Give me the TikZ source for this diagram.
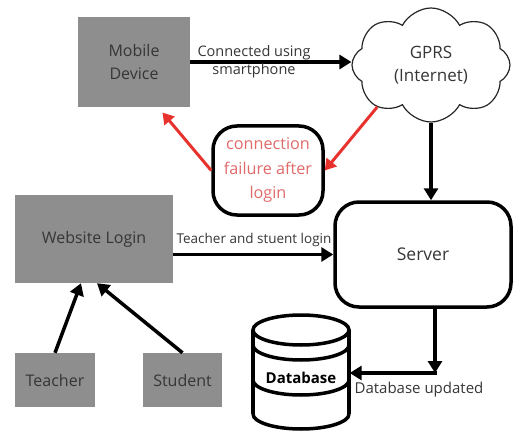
\documentclass[tikz,border=0pt]{standalone}
\usepackage{fontspec}
\setmainfont{Open Sans}
\usetikzlibrary{shapes.symbols,arrows.meta,calc}
\definecolor{boxgray}{HTML}{8E8E8E}
\definecolor{boxtext}{HTML}{363636}
\definecolor{arrred}{HTML}{E8322E}
\definecolor{txtred}{HTML}{E06A6A}
\begin{document}
\begin{tikzpicture}[x=1pt,y=1pt,
  graybox/.style={fill=boxgray,draw=none,text=boxtext,align=center,inner sep=0pt,font=\fontsize{16}{23}\selectfont},
  roundbox/.style={draw=black,line width=3.5pt,rounded corners=24pt,align=center,inner sep=0pt},
  blk/.style={line width=3.5pt,-{Triangle[width=14pt,length=12pt]}},
  redarr/.style={draw=arrred,line width=3pt,-{Triangle[width=13pt,length=11pt]}},
  lbl/.style={text=boxtext,align=center,inner sep=0pt}
]
\useasboundingbox (0,0) rectangle (514,432);
% nodes
\node[graybox,minimum width=112pt,minimum height=90pt] (mobile) at (134,370) {Mobile\\Device};
\node[cloud,draw=black!85,line width=1.2pt,cloud puffs=8,cloud puff arc=125,cloud ignores aspect,minimum width=158pt,minimum height=114pt,align=center,inner sep=0pt,text=boxtext,font=\fontsize{17}{23}\selectfont] (cloud) at (431,367) {GPRS\\(Internet)};
\node[roundbox,minimum width=110pt,minimum height=89pt,text=txtred,font=\fontsize{16.2}{24.5}\selectfont] (fail) at (268,261.5) {connection\\failure after\\login};
\node[graybox,minimum width=158pt,minimum height=88pt] (website) at (94,193) {Website Login};
\node[roundbox,minimum width=176pt,minimum height=105pt,text=boxtext,font=\fontsize{17.5}{20}\selectfont] (server) at (423,177.5) {Server};
\node[graybox,minimum width=80pt,minimum height=54pt] (teacher) at (55,52) {Teacher};
\node[graybox,minimum width=79pt,minimum height=54pt] (student) at (182.5,52) {Student};
% database cylinder
\node[minimum width=97pt,minimum height=114pt,inner sep=0pt] (db) at (301,60) {};
\begin{scope}[line width=3.5pt]
  \draw (301,102) ellipse (48 and 15);
  \draw (253,102) -- (253,18);
  \draw (349,102) -- (349,18);
  \draw (253,87) arc (180:360:48 and 15);
  \draw (253,52) arc (180:360:48 and 15);
  \draw (253,18) arc (180:360:48 and 15);
\end{scope}
\node[text=black,font=\bfseries\fontsize{15}{18}\selectfont,inner sep=0pt] (dblabel) at (301,54) {Database};
% connectors
\draw[blk] (mobile.east) -- (cloud.west |- mobile.east);
\node[lbl,font=\fontsize{14.5}{18}\selectfont] (l1) at (254,370) {Connected using\\smartphone};
\draw[blk] (cloud.south) -- (cloud.south |- server.north);
\draw[redarr] (cloud.218) -- (fail.east);
\draw[redarr,shorten >=7pt] (fail.west) -- ([xshift=24pt]mobile.south);
\draw[blk] (website.east |- server.west) -- (server.west);
\node[lbl,font=\fontsize{13.5}{16}\selectfont] (l2) at (254,192) {Teacher and stuent login};
\draw[blk] (teacher.north) -- ([xshift=-13pt]website.south);
\draw[blk] (student.north) -- ([xshift=3pt]website.south);
\coordinate (corner) at (435,59);
\draw[blk] (server.south -| corner) -- (corner);
\draw[line width=3.5pt,-{Triangle[width=14pt,length=12pt]}] ([xshift=1.75pt]corner) -- (corner -| db.east);
\node[lbl,font=\fontsize{15}{18}\selectfont] (l3) at (419,42) {Database updated};
\end{tikzpicture}
\end{document}
